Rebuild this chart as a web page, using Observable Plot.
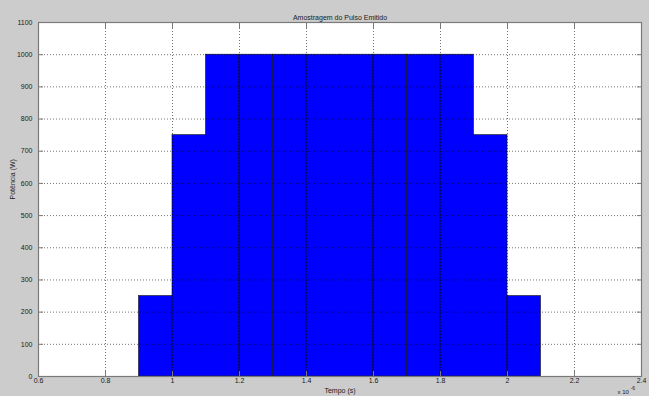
<!DOCTYPE html>
<html>
<head>
<meta charset="utf-8">
<script src="https://cdn.jsdelivr.net/npm/d3@7"></script>
<script src="https://cdn.jsdelivr.net/npm/@observablehq/plot@0.6"></script>
<style>
  html, body { margin: 0; padding: 0; background: #cccccc; }
  #chart svg { display: block; }
</style>
</head>
<body>
<div id="chart"></div>
<script>
// Sampled emitted pulse: start of each sample interval (in units of 1e-6 s)
const sampleStart = [0.9, 1.0, 1.1, 1.2, 1.3, 1.4, 1.5, 1.6, 1.7, 1.8, 1.9, 2.0];
const sampleWidth = 0.1;
// Power of each sample (W)
const samplePower = [250, 750, 1000, 1000, 1000, 1000, 1000, 1000, 1000, 1000, 750, 250];

const xTicks = [0.6, 0.8, 1, 1.2, 1.4, 1.6, 1.8, 2, 2.2, 2.4];
const yTicks = [0, 100, 200, 300, 400, 500, 600, 700, 800, 900, 1000, 1100];

const titleText = "Amostragem do Pulso Emitido";
const xLabel = "Tempo (s)";
const yLabel = "Potência (W)";

const samples = sampleStart.map((t, i) => ({t0: t, t1: t + sampleWidth, p: samplePower[i]}));

const font = "'Liberation Sans', Arial, Helvetica, sans-serif";
const textColor = "#1a1a1a";
const axisColor = "#7a7a7a";
const plain = (d) => String(+d.toFixed(4));

const chart = Plot.plot({
  width: 649,
  height: 396,
  marginLeft: 38,
  marginRight: 8,
  marginTop: 22,
  marginBottom: 20,
  style: {background: "#cccccc", fontFamily: font, fontSize: "7px", color: textColor, overflow: "visible"},
  x: {domain: [0.6, 2.4], ticks: xTicks, label: null},
  y: {domain: [0, 1100], ticks: yTicks, label: null},
  marks: [
    // white plotting area
    Plot.frame({fill: "white", stroke: null}),
    // pulse samples
    Plot.rectY(samples, {x1: "t0", x2: "t1", y: "p", fill: "#0000ff", stroke: "#111", strokeWidth: 0.6}),
    // dotted grid over everything
    Plot.gridX(xTicks, {stroke: "#000", strokeOpacity: 0.55, strokeWidth: 1, strokeDasharray: "1,2"}),
    Plot.gridY(yTicks, {stroke: "#000", strokeOpacity: 0.55, strokeWidth: 1, strokeDasharray: "1,2"}),
    // axes box
    Plot.frame({stroke: axisColor, strokeWidth: 1.2}),
    // inward tick marks on all four sides
    Plot.axisX(xTicks, {anchor: "bottom", tickSize: -5, text: null, stroke: axisColor}),
    Plot.axisX(xTicks, {anchor: "top", tickSize: -5, text: null, stroke: axisColor}),
    Plot.axisY(yTicks, {anchor: "left", tickSize: -5, text: null, stroke: axisColor}),
    Plot.axisY(yTicks, {anchor: "right", tickSize: -5, text: null, stroke: axisColor}),
    // tick labels
    Plot.axisX(xTicks, {anchor: "bottom", tickSize: 0, tickPadding: 2, tickFormat: plain, label: null, fill: textColor, fontSize: 7}),
    Plot.axisY(yTicks, {anchor: "left", tickSize: 0, tickPadding: 6, tickFormat: plain, label: null, fill: textColor, fontSize: 7}),
    // titles
    Plot.text([titleText], {frameAnchor: "top", dy: -7, fontSize: 7, fill: textColor}),
    Plot.text([xLabel], {frameAnchor: "bottom", dy: 16, fontSize: 7, fill: textColor}),
    Plot.text([yLabel], {frameAnchor: "left", dx: -26, rotate: -90, fontSize: 7, fill: textColor}),
    // axis multiplier
    Plot.text(["x 10"], {frameAnchor: "bottom-right", dx: -24, dy: 17, textAnchor: "start", fontSize: 6, fill: textColor}),
    Plot.text(["-6"], {frameAnchor: "bottom-right", dx: -11, dy: 13, textAnchor: "start", fontSize: 5, fill: textColor})
  ]
});

document.getElementById("chart").appendChild(chart);
</script>
</body>
</html>
